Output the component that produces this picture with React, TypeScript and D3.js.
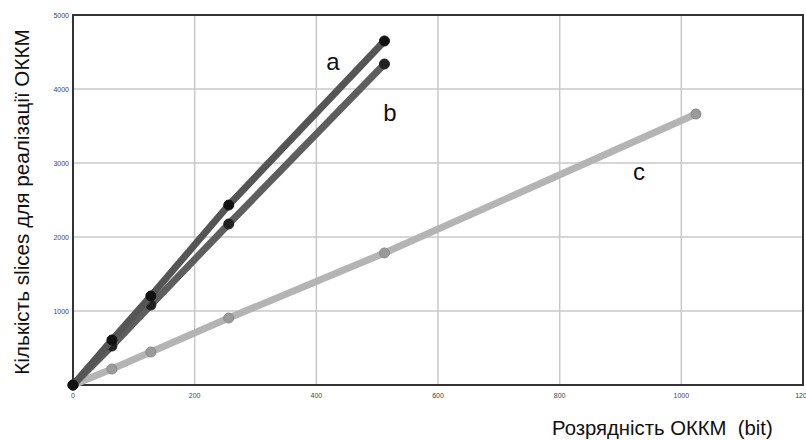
import React from "react";
import * as d3 from "d3";

const bits = [0, 64, 128, 256, 512, 1024];
const seriesA = [0, 608, 1203, 2432, 4649];
const seriesB = [0, 527, 1081, 2176, 4338];
const seriesC = [0, 216, 446, 905, 1784, 3662];
const xTicks = [0, 200, 400, 600, 800, 1000, 1200];
const yTicks = [1000, 2000, 3000, 4000, 5000];

const W = 806, H = 440;
const L = 73, R = 803, T = 15, B = 385;

export default function App() {
  const x = d3.scaleLinear().domain([0, 1200]).range([L, R]);
  const y = d3.scaleLinear().domain([0, 5000]).range([B, T]);
  const line = d3.line<[number, number]>().x(d => x(d[0])).y(d => y(d[1]));
  const pts = (vals: number[]) => vals.map((v, i) => [bits[i], v] as [number, number]);
  const series = [
    { data: pts(seriesC), stroke: "#b4b4b4", width: 7, fill: "#9a9a9a", ptStroke: "#8a8a8a", r: 5 },
    { data: pts(seriesB), stroke: "#5e5e5e", width: 7, fill: "#222", ptStroke: "#222", r: 5 },
    { data: pts(seriesA), stroke: "#555555", width: 7, fill: "#111", ptStroke: "#111", r: 5 },
  ];
  const font = "'Liberation Sans', Arial, sans-serif";
  return (
    <svg width={W} height={H} style={{ position: "absolute", left: 0, top: 0, background: "#fff" }}>
      {xTicks.map(t => (
        <line key={"gx" + t} x1={x(t)} x2={x(t)} y1={T} y2={B} stroke="#c8c8c8" strokeWidth={1.5} />
      ))}
      {yTicks.map(t => (
        <line key={"gy" + t} x1={L} x2={R} y1={y(t)} y2={y(t)} stroke="#c8c8c8" strokeWidth={1.5} />
      ))}
      <rect x={L} y={T} width={R - L} height={B - T} fill="none" stroke="#333" strokeWidth={2} />
      {xTicks.map(t => (
        <text key={"tx" + t} x={x(t)} y={B + 13} textAnchor="middle" fontSize={7} fill="#444" fontFamily={font}>{t}</text>
      ))}
      {yTicks.map(t => (
        <text key={"ty" + t} x={L - 4} y={y(t) + 2.5} textAnchor="end" fontSize={7} fill="#444" fontFamily={font}>{t}</text>
      ))}
      {series.map((s, i) => (
        <g key={i}>
          <path d={line(s.data) || ""} fill="none" stroke={s.stroke} strokeWidth={s.width} strokeLinecap="round" />
          {s.data.map((d, j) => (
            <circle key={j} cx={x(d[0])} cy={y(d[1])} r={s.r} fill={s.fill} stroke={s.ptStroke} strokeWidth={1} />
          ))}
        </g>
      ))}
      <text x={333} y={70} fontSize={24} fontFamily={font} fill="#111" textAnchor="middle">a</text>
      <text x={390} y={121} fontSize={24} fontFamily={font} fill="#111" textAnchor="middle">b</text>
      <text x={639} y={180} fontSize={24} fontFamily={font} fill="#111" textAnchor="middle">c</text>
      <text transform="translate(29,202) rotate(-90)" textAnchor="middle" fontSize={20.7} fontFamily={font} fill="#111">
        Кількість slices для реалізації ОККМ
      </text>
      <text x={552} y={435} fontSize={20.3} fontFamily={font} fill="#111" style={{ whiteSpace: "pre" }}>
        {"Розрядність ОККМ  (bit)"}
      </text>
    </svg>
  );
}
